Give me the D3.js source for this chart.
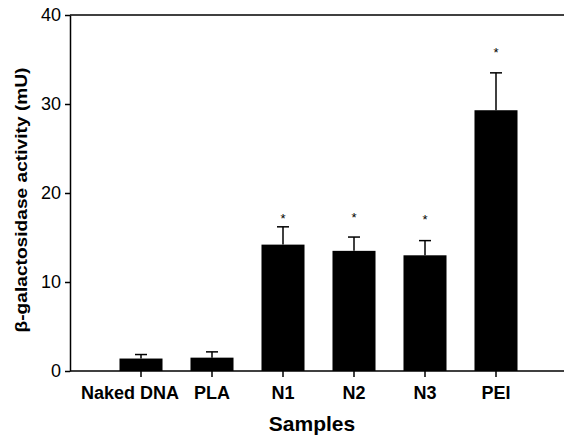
<!DOCTYPE html>
<html>
<head>
<meta charset="utf-8">
<script src="https://cdn.jsdelivr.net/npm/d3@7"></script>
<style>
  body { margin: 0; background: #fff; }
  text { font-family: "Liberation Sans", Arial, Helvetica, sans-serif; }
</style>
</head>
<body>
<div id="chart"></div>
<script>
// Data
const samples = ["Naked DNA", "PLA", "N1", "N2", "N3", "PEI"];
const activity = [1.4, 1.5, 14.2, 13.5, 13.0, 29.3];
const errors = [0.45, 0.65, 2.0, 1.55, 1.65, 4.2];
const starred = ["N1", "N2", "N3", "PEI"];
const starLevel = [17.4, 17.5, 17.3, 36.1];
const yTicks = [0, 10, 20, 30, 40];

const width = 564, height = 442;
const plotLeft = 70, plotRight = 564, plotTop = 15, plotBottom = 371;

const svg = d3.select("#chart")
  .append("svg")
  .attr("width", width)
  .attr("height", height);

// Scales
const x = d3.scaleBand()
  .domain(samples)
  .range([105.5, 531.5])
  .paddingInner(0.394)
  .paddingOuter(0.197);

const y = d3.scaleLinear()
  .domain([0, 40])
  .range([plotBottom, plotTop]);

// Bars
svg.append("g")
  .selectAll("rect")
  .data(samples)
  .enter().append("rect")
  .attr("x", (d) => x(d))
  .attr("y", (d, i) => y(activity[i]))
  .attr("width", x.bandwidth())
  .attr("height", (d, i) => y(0) - y(activity[i]))
  .attr("fill", "#000");

// Error bars (upper only)
const err = svg.append("g")
  .attr("stroke", "#000")
  .attr("stroke-width", 1.5);

samples.forEach((s, i) => {
  const cx = x(s) + x.bandwidth() / 2;
  err.append("line")
    .attr("x1", cx).attr("x2", cx)
    .attr("y1", y(activity[i])).attr("y2", y(activity[i] + errors[i]));
  err.append("line")
    .attr("x1", cx - 6).attr("x2", cx + 6)
    .attr("y1", y(activity[i] + errors[i])).attr("y2", y(activity[i] + errors[i]));
});

// Significance stars
svg.append("g")
  .selectAll("text")
  .data(starred)
  .enter().append("text")
  .attr("x", (d) => x(d) + x.bandwidth() / 2)
  .attr("y", (d, i) => y(starLevel[i]) + 7)
  .attr("text-anchor", "middle")
  .style("font-size", "13px")
  .text("*");

// Y axis
const yAxis = svg.append("g")
  .attr("transform", `translate(${plotLeft},0)`)
  .call(d3.axisLeft(y).tickValues(yTicks).tickSize(5).tickPadding(4).tickSizeOuter(0));
yAxis.selectAll("text").style("font-size", "18px").attr("fill", "#000");
yAxis.selectAll("line, path").attr("stroke", "#000").attr("stroke-width", 1.5);

// X axis (ticks and labels), baseline drawn across the plot
const xAxis = svg.append("g")
  .attr("transform", `translate(0,${plotBottom})`)
  .call(d3.axisBottom(x).tickSize(6).tickPadding(9).tickSizeOuter(0));
xAxis.select(".domain").remove();
xAxis.selectAll("line").attr("stroke", "#000").attr("stroke-width", 1.5);
xAxis.selectAll("text")
  .style("font-size", "18px")
  .style("font-weight", "bold")
  .attr("fill", "#000")
  .attr("dx", (d, i) => i === 0 ? -11 : 0);   // first label sits left of its tick in the original

svg.append("line")
  .attr("x1", plotLeft).attr("x2", plotRight)
  .attr("y1", y(0)).attr("y2", y(0))
  .attr("stroke", "#000").attr("stroke-width", 1.5);

// Top frame line
svg.append("line")
  .attr("x1", plotLeft).attr("x2", plotRight)
  .attr("y1", y(40)).attr("y2", y(40))
  .attr("stroke", "#000").attr("stroke-width", 1.5);

// Axis titles
svg.append("text")
  .attr("x", 312)
  .attr("y", 431)
  .attr("text-anchor", "middle")
  .style("font-size", "21px")
  .style("font-weight", "bold")
  .text("Samples");

svg.append("text")
  .attr("transform", "translate(27,200) rotate(-90)")
  .attr("text-anchor", "middle")
  .attr("textLength", 265)
  .attr("lengthAdjust", "spacingAndGlyphs")
  .style("font-size", "17px")
  .style("font-weight", "bold")
  .text("β-galactosidase activity (mU)");
</script>
</body>
</html>
